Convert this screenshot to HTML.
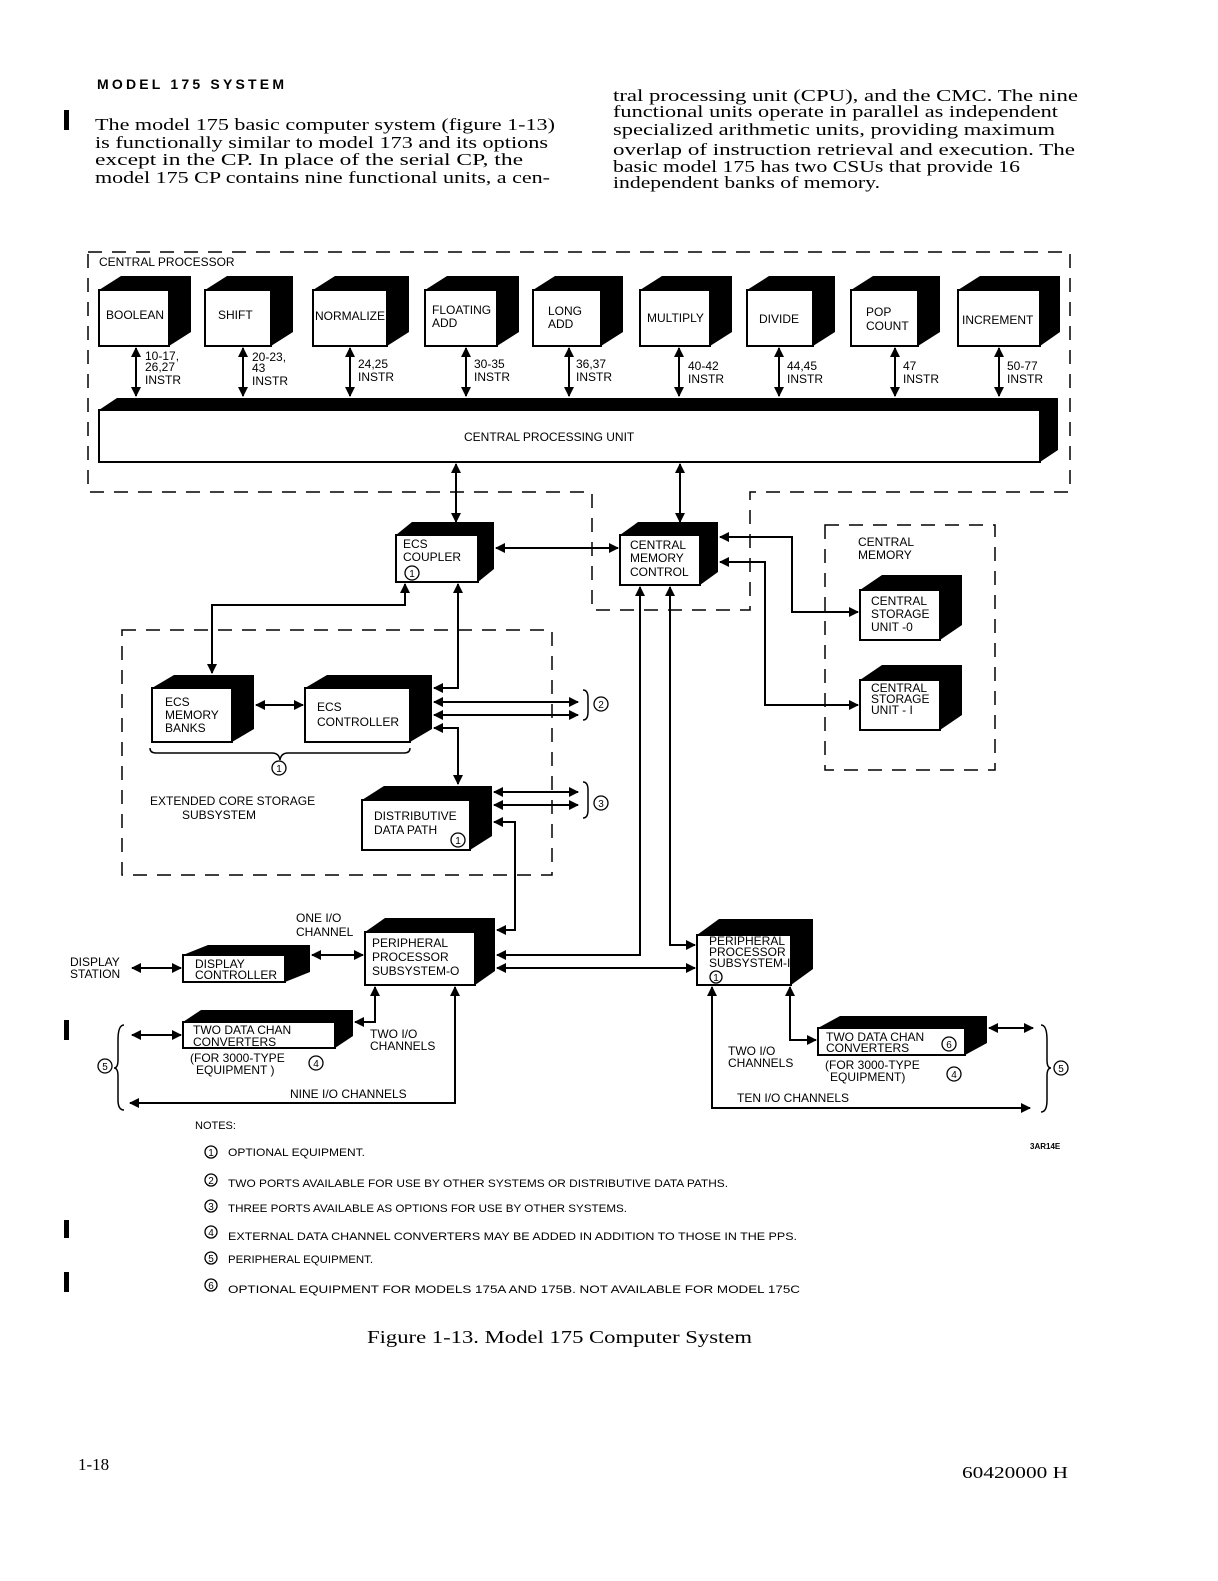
<!DOCTYPE html>
<html><head><meta charset="utf-8"><style>
html,body{margin:0;padding:0;background:#fff;}
svg{display:block;}
.s{font-family:"Liberation Sans",sans-serif;font-size:12px;fill:#000;}
.r{font-family:"Liberation Serif",serif;font-size:17px;fill:#000;}
.n{font-family:"Liberation Sans",sans-serif;font-size:11px;fill:#000;}
.c{font-family:"Liberation Sans",sans-serif;font-size:10px;fill:#000;text-anchor:middle;}
</style></head><body>
<svg width="1218" height="1581" viewBox="0 0 1218 1581" xmlns="http://www.w3.org/2000/svg">
<defs>
<marker id="a" viewBox="0 0 10 10" refX="9" refY="5" markerWidth="10" markerHeight="10" markerUnits="userSpaceOnUse" orient="auto-start-reverse"><path d="M0,0 L10,5 L0,10 Z" fill="#000"/></marker>
</defs>
<rect width="1218" height="1581" fill="#fff"/>
<text x="97" y="89" font-family="Liberation Sans,sans-serif" font-weight="bold" font-size="14" textLength="187" lengthAdjust="spacing">MODEL 175 SYSTEM</text>
<rect x="64" y="110" width="5" height="20" fill="#000"/>
<g class="r" lengthAdjust="spacingAndGlyphs">
<text x="95" y="130" textLength="460" lengthAdjust="spacingAndGlyphs">The model 175 basic computer system (figure 1-13)</text>
<text x="95" y="148" textLength="453" lengthAdjust="spacingAndGlyphs">is functionally similar to model 173 and its options</text>
<text x="95" y="165" textLength="428" lengthAdjust="spacingAndGlyphs">except in the CP.  In place of the serial CP, the</text>
<text x="95" y="183" textLength="455" lengthAdjust="spacingAndGlyphs">model 175 CP contains nine functional units, a cen-</text>
<text x="613" y="101" textLength="465" lengthAdjust="spacingAndGlyphs">tral processing unit (CPU), and the CMC.  The nine</text>
<text x="613" y="117" textLength="445" lengthAdjust="spacingAndGlyphs">functional units operate in parallel as independent</text>
<text x="613" y="135" textLength="442" lengthAdjust="spacingAndGlyphs">specialized arithmetic units, providing maximum</text>
<text x="613" y="155" textLength="462" lengthAdjust="spacingAndGlyphs">overlap of instruction retrieval and execution.  The</text>
<text x="613" y="172" textLength="407" lengthAdjust="spacingAndGlyphs">basic model 175 has two CSUs that provide 16</text>
<text x="613" y="188" textLength="267" lengthAdjust="spacingAndGlyphs">independent banks of memory.</text>
</g>

<g fill="none" stroke="#000" stroke-width="1.5" stroke-dasharray="14 10">
<path d="M88,252 H1070 V492 H750 V610 H592 V492 H88 Z"/>
<path d="M825,525 H995 V770 H825 Z"/>
<path d="M122,630 H552 V875 H122 Z"/>
</g>
<text class="s" x="99" y="266">CENTRAL  PROCESSOR</text>

<g fill="#000">
<polygon points="99,290 121,276 191,276 191,332 169,346 99,346"/>
<polygon points="205,290 227,276 293,276 293,332 271,346 205,346"/>
<polygon points="313,290 335,276 409,276 409,332 387,346 313,346"/>
<polygon points="425,290 447,276 519,276 519,332 497,346 425,346"/>
<polygon points="533,290 555,276 623,276 623,332 601,346 533,346"/>
<polygon points="640,290 662,276 732,276 732,332 710,346 640,346"/>
<polygon points="747,290 769,276 835,276 835,332 813,346 747,346"/>
<polygon points="851,290 873,276 940,276 940,332 918,346 851,346"/>
<polygon points="958,290 980,276 1060,276 1060,332 1040,346 958,346"/>
<polygon points="99,410 117,398 1058,398 1058,450 1040,462 99,462"/>
<polygon points="396,535 412,522 494,522 494,569 478,582 396,582"/>
<polygon points="620,535 638,522 718,522 718,572 700,585 620,585"/>
<polygon points="860,590 882,575 962,575 962,625 940,640 860,640"/>
<polygon points="860,680 882,665 962,665 962,715 940,730 860,730"/>
<polygon points="152,688 174,675 254,675 254,729 232,742 152,742"/>
<polygon points="305,688 327,675 432,675 432,729 410,742 305,742"/>
<polygon points="362,800 384,786 492,786 492,836 470,850 362,850"/>
<polygon points="365,932 385,918 495,918 495,971 475,985 365,985"/>
<polygon points="183,955 208,945 310,945 310,972 285,982 183,982"/>
<polygon points="183,1022 201,1010 353,1010 353,1036 335,1048 183,1048"/>
<polygon points="697,935 719,919 813,919 813,969 791,985 697,985"/>
<polygon points="818,1028 840,1016 987,1016 987,1043 965,1055 818,1055"/>
</g>
<g fill="#fff" stroke="#000" stroke-width="2">
<rect x="99" y="290" width="70" height="56"/>
<rect x="205" y="290" width="66" height="56"/>
<rect x="313" y="290" width="74" height="56"/>
<rect x="425" y="290" width="72" height="56"/>
<rect x="533" y="290" width="68" height="56"/>
<rect x="640" y="290" width="70" height="56"/>
<rect x="747" y="290" width="66" height="56"/>
<rect x="851" y="290" width="67" height="56"/>
<rect x="958" y="290" width="82" height="56"/>
<rect x="99" y="410" width="941" height="52"/>
<rect x="396" y="535" width="82" height="47"/>
<rect x="620" y="535" width="80" height="50"/>
<rect x="860" y="590" width="80" height="50"/>
<rect x="860" y="680" width="80" height="50"/>
<rect x="152" y="688" width="80" height="54"/>
<rect x="305" y="688" width="105" height="54"/>
<rect x="362" y="800" width="108" height="50"/>
<rect x="365" y="932" width="110" height="53"/>
<rect x="183" y="955" width="102" height="27"/>
<rect x="183" y="1022" width="152" height="26"/>
<rect x="697" y="935" width="94" height="50"/>
<rect x="818" y="1028" width="147" height="27"/>
</g>

<text class="s" x="106" y="319">BOOLEAN</text>
<text class="s" x="218" y="319">SHIFT</text>
<text class="s" x="315" y="320">NORMALIZE</text>
<text class="s" x="432" y="314">FLOATING</text><text class="s" x="432" y="327">ADD</text>
<text class="s" x="548" y="315">LONG</text><text class="s" x="548" y="328">ADD</text>
<text class="s" x="647" y="322">MULTIPLY</text>
<text class="s" x="759" y="323">DIVIDE</text>
<text class="s" x="866" y="316">POP</text><text class="s" x="866" y="330">COUNT</text>
<text class="s" x="962" y="324">INCREMENT</text>
<text class="s" x="464" y="441">CENTRAL  PROCESSING  UNIT</text>
<text class="s" x="403" y="548">ECS</text><text class="s" x="403" y="561">COUPLER</text>
<text class="s" x="630" y="549">CENTRAL</text><text class="s" x="630" y="562">MEMORY</text><text class="s" x="630" y="576">CONTROL</text>
<text class="s" x="858" y="546">CENTRAL</text><text class="s" x="858" y="559">MEMORY</text>
<text class="s" x="871" y="605">CENTRAL</text><text class="s" x="871" y="618">STORAGE</text><text class="s" x="871" y="631">UNIT -0</text>
<text class="s" x="871" y="692">CENTRAL</text><text class="s" x="871" y="703">STORAGE</text><text class="s" x="871" y="714">UNIT - I</text>
<text class="s" x="165" y="706">ECS</text><text class="s" x="165" y="719">MEMORY</text><text class="s" x="165" y="732">BANKS</text>
<text class="s" x="317" y="711">ECS</text><text class="s" x="317" y="726">CONTROLLER</text>
<text class="s" x="150" y="805">EXTENDED  CORE  STORAGE</text><text class="s" x="182" y="819">SUBSYSTEM</text>
<text class="s" x="374" y="820">DISTRIBUTIVE</text><text class="s" x="374" y="834">DATA  PATH</text>
<text class="s" x="372" y="947">PERIPHERAL</text><text class="s" x="372" y="961">PROCESSOR</text><text class="s" x="372" y="975">SUBSYSTEM-O</text>
<text class="s" x="195" y="968">DISPLAY</text><text class="s" x="195" y="979">CONTROLLER</text>
<text class="s" x="70" y="966">DISPLAY</text><text class="s" x="70" y="978">STATION</text>
<text class="s" x="296" y="922">ONE I/O</text><text class="s" x="296" y="936">CHANNEL</text>
<text class="s" x="193" y="1034">TWO DATA CHAN</text><text class="s" x="193" y="1046">CONVERTERS</text>
<text class="s" x="190" y="1062">(FOR 3000-TYPE</text><text class="s" x="196" y="1074">EQUIPMENT )</text>
<text class="s" x="370" y="1038">TWO I/O</text><text class="s" x="370" y="1050">CHANNELS</text>
<text class="s" x="290" y="1098">NINE I/O CHANNELS</text>
<text class="s" x="709" y="945" font-size="11">PERIPHERAL</text><text class="s" x="709" y="956" font-size="11">PROCESSOR</text><text class="s" x="709" y="967" font-size="11">SUBSYSTEM-I</text>
<text class="s" x="826" y="1041">TWO DATA CHAN</text><text class="s" x="826" y="1052">CONVERTERS</text>
<text class="s" x="825" y="1069">(FOR 3000-TYPE</text><text class="s" x="830" y="1081">EQUIPMENT)</text>
<text class="s" x="728" y="1055">TWO I/O</text><text class="s" x="728" y="1067">CHANNELS</text>
<text class="s" x="737" y="1102">TEN I/O CHANNELS</text>

<g class="s">
<text x="145" y="360">10-17,</text><text x="145" y="371">26,27</text><text x="145" y="384">INSTR</text>
<text x="252" y="361">20-23,</text><text x="252" y="372">43</text><text x="252" y="385">INSTR</text>
<text x="358" y="368">24,25</text><text x="358" y="381">INSTR</text>
<text x="474" y="368">30-35</text><text x="474" y="381">INSTR</text>
<text x="576" y="368">36,37</text><text x="576" y="381">INSTR</text>
<text x="688" y="370">40-42</text><text x="688" y="383">INSTR</text>
<text x="787" y="370">44,45</text><text x="787" y="383">INSTR</text>
<text x="903" y="370">47</text><text x="903" y="383">INSTR</text>
<text x="1007" y="370">50-77</text><text x="1007" y="383">INSTR</text>
</g>

<g fill="none" stroke="#000" stroke-width="2" marker-start="url(#a)" marker-end="url(#a)">
<path d="M136,348 V396"/><path d="M243,348 V396"/><path d="M350,348 V396"/>
<path d="M466,348 V396"/><path d="M569,348 V396"/><path d="M679,348 V396"/>
<path d="M779,348 V396"/><path d="M895,348 V396"/><path d="M999,348 V396"/>
<path d="M456,464 V522"/><path d="M680,464 V522"/>
<path d="M496,548 H618"/>
<path d="M720,537 H792 V612 H858"/>
<path d="M720,562 H765 V705 H858"/>
<path d="M640,587 V955 H497"/>
<path d="M670,587 V945 H695"/>
<path d="M497,968 H695"/>
<path d="M405,584 V605 H212 V673"/>
<path d="M458,584 V688 H434"/>
<path d="M256,705 H303"/>
<path d="M434,702 H578"/><path d="M434,715 H578"/>
<path d="M434,728 H458 V784"/>
<path d="M494,792 H578"/><path d="M494,805 H578"/>
<path d="M494,822 H515 V930 H497"/>
<path d="M312,955 H363"/>
<path d="M132,968 H181"/>
<path d="M375,987 V1022 H355"/>
<path d="M455,987 V1103 H130"/>
<path d="M132,1035 H181"/>
<path d="M712,987 V1108 H1030"/>
<path d="M790,987 V1040 H816"/>
<path d="M989,1028 H1033"/>
</g>
<g fill="none" stroke="#000" stroke-width="1.5">
<path d="M583,690 Q588,690 588,698 V712 Q588,720 583,720"/>
<path d="M583,782 Q588,782 588,790 V810 Q588,818 583,818"/>
<path d="M150,748 Q150,753 156,753 H272 Q279,753 280,760 Q281,753 288,753 H404 Q410,753 410,748"/>
<path d="M124,1025 Q118,1025 118,1040 V1060 Q118,1068 114,1068 Q118,1068 118,1076 V1100 Q118,1110 124,1110"/>
<path d="M1041,1025 Q1047,1025 1047,1040 V1060 Q1047,1068 1051,1068 Q1047,1068 1047,1076 V1100 Q1047,1112 1041,1112"/>
</g>
<g fill="none" stroke="#000" stroke-width="1.3">
<circle cx="412" cy="573" r="7"/><circle cx="601" cy="704" r="7"/><circle cx="601" cy="803" r="7"/>
<circle cx="279" cy="768" r="7"/><circle cx="458" cy="840" r="7"/><circle cx="316" cy="1063" r="7"/>
<circle cx="105" cy="1066" r="7"/><circle cx="716" cy="977" r="6"/><circle cx="949" cy="1044" r="7"/>
<circle cx="954" cy="1074" r="7"/><circle cx="1061" cy="1068" r="7"/>
<circle cx="211" cy="1152" r="6"/><circle cx="211" cy="1180" r="6"/><circle cx="211" cy="1206" r="6"/>
<circle cx="211" cy="1232" r="6"/><circle cx="211" cy="1258" r="6"/><circle cx="211" cy="1285" r="6"/>
</g>
<g class="c">
<text x="412" y="577">1</text><text x="601" y="708">2</text><text x="601" y="807">3</text>
<text x="279" y="772">1</text><text x="458" y="844">1</text><text x="316" y="1067">4</text>
<text x="105" y="1070">5</text><text x="716" y="981">1</text><text x="949" y="1048">6</text>
<text x="954" y="1078">4</text><text x="1061" y="1072">5</text>
<text x="211" y="1156">1</text><text x="211" y="1184">2</text><text x="211" y="1210">3</text>
<text x="211" y="1236">4</text><text x="211" y="1262">5</text><text x="211" y="1289">6</text>
</g>

<text class="n" x="195" y="1129">NOTES:</text>
<text class="n" x="228" y="1156" textLength="137" lengthAdjust="spacingAndGlyphs">OPTIONAL EQUIPMENT.</text>
<text class="n" x="228" y="1187" textLength="500" lengthAdjust="spacingAndGlyphs">TWO PORTS AVAILABLE FOR USE BY OTHER SYSTEMS OR DISTRIBUTIVE DATA PATHS.</text>
<text class="n" x="228" y="1212" textLength="399" lengthAdjust="spacingAndGlyphs">THREE PORTS AVAILABLE AS OPTIONS FOR USE BY OTHER SYSTEMS.</text>
<text class="n" x="228" y="1240" textLength="569" lengthAdjust="spacingAndGlyphs">EXTERNAL DATA CHANNEL CONVERTERS MAY BE ADDED IN ADDITION TO THOSE IN THE PPS.</text>
<text class="n" x="228" y="1263" textLength="145" lengthAdjust="spacingAndGlyphs">PERIPHERAL EQUIPMENT.</text>
<text class="n" x="228" y="1293" textLength="572" lengthAdjust="spacingAndGlyphs">OPTIONAL EQUIPMENT FOR MODELS 175A AND 175B.  NOT AVAILABLE FOR MODEL 175C</text>
<text x="1030" y="1149" font-family="Liberation Sans,sans-serif" font-size="8" font-weight="bold">3AR14E</text>
<rect x="64" y="1020" width="5" height="20" fill="#000"/>
<rect x="64" y="1220" width="5" height="18" fill="#000"/>
<rect x="64" y="1272" width="5" height="20" fill="#000"/>
<text x="367" y="1343" font-family="Liberation Serif,serif" font-size="18" textLength="385" lengthAdjust="spacingAndGlyphs">Figure 1-13.  Model 175 Computer System</text>
<text x="78" y="1470" font-family="Liberation Serif,serif" font-size="17">1-18</text>
<text x="962" y="1478" font-family="Liberation Serif,serif" font-size="17" textLength="106" lengthAdjust="spacingAndGlyphs">60420000 H</text>
</svg>
</body></html>
